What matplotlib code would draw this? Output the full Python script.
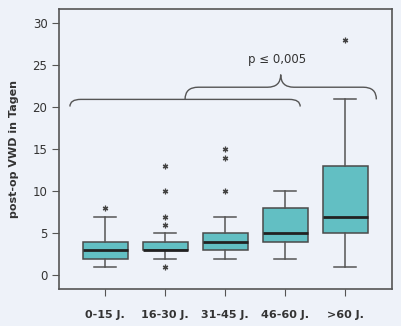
import numpy as np
import matplotlib.pyplot as plt
from matplotlib.path import Path
from matplotlib.patches import PathPatch

groups = ['0-15 J.', '16-30 J.', '31-45 J.', '46-60 J.', '>60 J.']
whislo = [1, 2, 2, 2, 1]
q1 = [2, 3, 3, 4, 5]
med = [3, 3, 4, 5, 7]
q3 = [4, 4, 5, 8, 13]
whishi = [7, 5, 7, 10, 21]
fliers = [[8], [1, 6, 7, 10, 13], [10, 14, 15], [], [28]]

bg = '#eef2f9'
edge = '#4a4a4a'
fill = '#62bfc3'
txt = '#333333'


def brace(ax, x0, x1, y_end, y_h, y_cusp, dx):
    xm = (x0 + x1) / 2.0
    verts = [(x0, y_end), (x0, y_h), (x0 + dx, y_h),
             (xm - dx, y_h), (xm, y_h), (xm, y_cusp),
             (xm, y_h), (xm + dx, y_h),
             (x1 - dx, y_h), (x1, y_h), (x1, y_end)]
    codes = [Path.MOVETO, Path.CURVE3, Path.CURVE3,
             Path.LINETO, Path.CURVE3, Path.CURVE3,
             Path.CURVE3, Path.CURVE3,
             Path.LINETO, Path.CURVE3, Path.CURVE3]
    ax.add_patch(PathPatch(Path(verts, codes), fill=False, edgecolor='#555555', lw=1.0))


fig = plt.figure(figsize=(4.02, 3.26), dpi=100, facecolor=bg)
ax = fig.add_axes([0.1475, 0.1135, 0.8275, 0.8585], facecolor=bg)

stats = []
for i in range(len(groups)):
    stats.append({'whislo': whislo[i], 'q1': q1[i], 'med': med[i], 'q3': q3[i],
                  'whishi': whishi[i], 'fliers': fliers[i], 'label': groups[i]})

pos = np.arange(1, len(groups) + 1)
ax.bxp(stats, positions=pos, widths=0.75, patch_artist=True, capwidths=0.37,
       boxprops=dict(facecolor=fill, edgecolor=edge, lw=1.1),
       medianprops=dict(color='#222222', lw=2.0),
       whiskerprops=dict(color='#555555', lw=1.1),
       capprops=dict(color='#555555', lw=1.1),
       flierprops=dict(marker=(6, 2, 0), markersize=4, markeredgecolor='#444444',
                       markeredgewidth=0.9, linestyle='none'))

# braces for the significance annotation
brace(ax, 0.41, 4.25, 20.1, 20.95, 20.95, 0.18)
brace(ax, 2.33, 5.52, 20.95, 22.4, 23.9, 0.22)
ax.text(3.86, 25.7, 'p \u2264 0,005', ha='center', va='center', fontsize=8.5, color=txt)

ax.set_xlim(0.233, 5.78)
ax.set_ylim(-1.63, 31.7)
ax.set_yticks([0, 5, 10, 15, 20, 25, 30])
ax.set_xticks(pos)
ax.set_xticklabels(groups, fontsize=8, fontweight='bold', color=txt)
ax.tick_params(axis='y', labelsize=8.5, labelcolor=txt, color='#555555', length=5)
ax.tick_params(axis='x', color='#555555', length=5, pad=10)
ax.set_ylabel('post-op VWD in Tagen', fontsize=8, fontweight='bold', color=txt, labelpad=10)
for s in ax.spines.values():
    s.set_color('#555555')
    s.set_linewidth(1.2)

fig.savefig('out.png', dpi=100, facecolor=bg)
